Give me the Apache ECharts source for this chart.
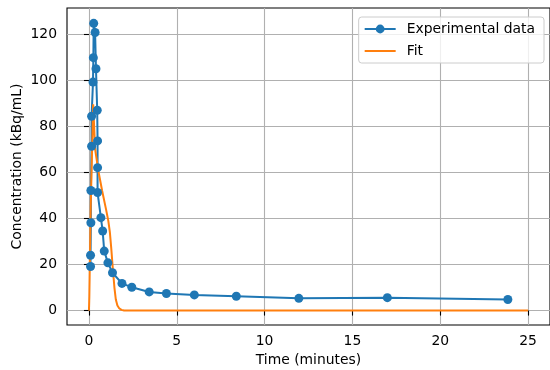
<!DOCTYPE html>
<html>
<head>
<meta charset="utf-8">
<script src="https://cdn.jsdelivr.net/npm/echarts@6/dist/echarts.min.js"></script>
<style>
  html, body { margin: 0; padding: 0; background: #fff; }
  #chart { width: 550px; height: 370px; }
</style>
</head>
<body>
<div id="chart"></div>
<script>
// Measured activity concentration over time (minutes, kBq/mL)
const expTime = [0.09, 0.09, 0.11, 0.11, 0.15, 0.15, 0.23, 0.25, 0.27, 0.35, 0.40, 0.47, 0.49, 0.49, 0.49,
                 0.68, 0.78, 0.87, 1.08, 1.34, 1.88, 2.44, 3.43, 4.41, 6.00, 8.39, 11.95, 16.99, 23.85];
const expConc = [19.1, 24.0, 38.1, 52.1, 71.3, 84.3, 99.1, 109.7, 124.6, 120.6, 104.9, 86.9, 73.6, 62.0, 51.2,
                 40.3, 34.5, 25.8, 20.7, 16.4, 11.8, 10.1, 8.1, 7.4, 6.8, 6.2, 5.3, 5.6, 4.8];

// Fitted model curve
const fitTime = [0, 0.02, 0.10, 0.24, 0.35, 0.55, 0.75, 0.97, 1.10, 1.19, 1.27, 1.35, 1.45, 1.53, 1.62, 1.72, 1.85, 2.0, 25];
const fitConc = [0, 6, 45, 89.5, 70, 60, 52, 44, 39, 34, 27, 19, 10, 4.8, 2.2, 1.0, 0.3, 0, 0];

// Axis ticks and ranges
const xTicks = [0, 5, 10, 15, 20, 25];
const yTicks = [0, 20, 40, 60, 80, 100, 120];
const xRange = [-1.25, 26.25];
const yRange = [-6.25, 131.25];

const pairs = (xs, ys) => xs.map((x, i) => [x, ys[i]]);

const font = 'DejaVu Sans';
const fs = 13.9;
const chart = echarts.init(document.getElementById('chart'), null, { renderer: 'canvas' });

chart.setOption({
  animation: false,
  backgroundColor: '#ffffff',
  grid: {
    left: 67, right: 0, top: 8, bottom: 45,
    outerBoundsMode: 'none',
    containLabel: false,
    show: true, borderColor: '#000', borderWidth: 1.1, backgroundColor: 'transparent'
  },
  xAxis: {
    type: 'value',
    min: xRange[0], max: xRange[1],
    name: 'Time (minutes)',
    nameLocation: 'middle',
    nameGap: 28,
    nameMoveOverlap: false,
    nameTextStyle: { fontFamily: font, fontSize: fs, color: '#000' },
    axisLine: { show: false },
    axisTick: { show: true, length: 5, lineStyle: { color: '#000', width: 1.1 }, customValues: xTicks },
    axisLabel: { fontFamily: font, fontSize: fs, color: '#000', margin: 9, customValues: xTicks },
    splitLine: { show: true, lineStyle: { color: '#b0b0b0', width: 1.1 } }
  },
  yAxis: {
    type: 'value',
    min: yRange[0], max: yRange[1],
    name: 'Concentration (kBq/mL)',
    nameLocation: 'middle',
    nameGap: 43,
    nameMoveOverlap: false,
    nameTextStyle: { fontFamily: font, fontSize: fs, color: '#000' },
    axisLine: { show: false },
    axisTick: { show: true, length: 5, lineStyle: { color: '#000', width: 1.1 }, customValues: yTicks },
    axisLabel: { fontFamily: font, fontSize: fs, color: '#000', margin: 10, customValues: yTicks },
    splitLine: { show: true, lineStyle: { color: '#b0b0b0', width: 1.1 } }
  },
  legend: {
    right: 6, top: 17,
    orient: 'vertical',
    backgroundColor: 'rgba(255,255,255,0.8)',
    borderColor: '#cccccc', borderWidth: 1, borderRadius: 3,
    padding: [5, 9, 5, 5],
    itemWidth: 31, itemHeight: 11, itemGap: 8,
    textStyle: { fontFamily: font, fontSize: fs, color: '#000', padding: [0, 0, 0, 6] },
    data: [
      { name: 'Experimental data' },
      { name: 'Fit', itemStyle: { color: 'transparent', borderWidth: 0, opacity: 0 } }
    ]
  },
  series: [
    {
      name: 'Experimental data',
      type: 'line',
      data: pairs(expTime, expConc),
      color: '#1f77b4',
      symbol: 'circle',
      symbolSize: 9,
      showSymbol: true,
      lineStyle: { width: 2, color: '#1f77b4' },
      itemStyle: { color: '#1f77b4' }
    },
    {
      name: 'Fit',
      type: 'line',
      data: pairs(fitTime, fitConc),
      color: '#ff7f0e',
      symbol: 'none',
      lineStyle: { width: 2, color: '#ff7f0e' }
    }
  ]
});
</script>
</body>
</html>
